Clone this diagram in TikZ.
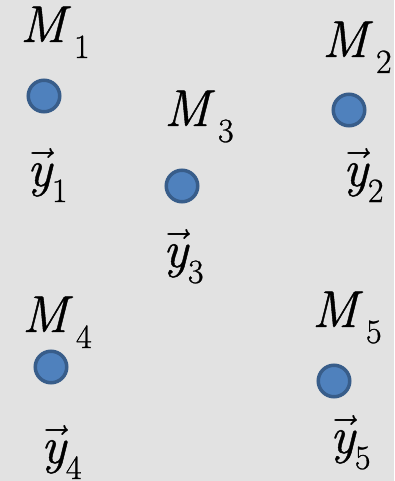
\RequirePackage{fix-cm}
\documentclass[tikz,border=0pt]{standalone}
\usepackage{fontspec}
\setmainfont{Latin Modern Roman}[FakeBold=0.8]
\usepackage{tikz}
\usetikzlibrary{positioning}
\definecolor{BgGray}{RGB}{226,226,226}
\definecolor{PtBlue}{RGB}{79,129,189}
\definecolor{PtEdge}{RGB}{56,93,138}
\newcommand{\mlbl}[1]{\textit{M}\hspace{3pt}\raisebox{-16pt}{\fontsize{34}{34}\selectfont #1}}
\newcommand{\ylbl}[1]{$\vec{\textit{y}}$\hspace{0pt}\raisebox{-16pt}{\fontsize{34}{34}\selectfont #1}}

\begin{document}
\begin{tikzpicture}[x=1pt, y=-1pt,
          pt/.style={circle, draw=PtEdge, fill=PtBlue, line width=3.5pt,
                     minimum size=31.5pt, inner sep=0pt},
          lbl/.style={anchor=base west, inner sep=0pt,
                      font=\fontsize{52}{52}\selectfont}
        ]
        % Background
        \fill[BgGray] (0,0) rectangle (394,481);
        \useasboundingbox (0,0) rectangle (394,481);

        % Points
        \node[pt] (p1) at (44, 96) {};
        \node[pt] (p2) at (349, 110) {};
        \node[pt] (p3) at (182, 186) {};
        \node[pt] (p4) at (51, 367) {};
        \node[pt] (p5) at (334, 381) {};

        % Point names
        \node[lbl] (m1) at (20, 42) {\mlbl{1}};
        \node[lbl] (m2) at (322, 57) {\mlbl{2}};
        \node[lbl] (m3) at (164, 126) {\mlbl{3}};
        \node[lbl] (m4) at (22, 332) {\mlbl{4}};
        \node[lbl] (m5) at (312, 327) {\mlbl{5}};

        % Vectors
        \node[lbl] (y1) at (27, 186) {\ylbl{1}};
        \node[lbl] (y2) at (343, 186) {\ylbl{2}};
        \node[lbl] (y3) at (163, 267) {\ylbl{3}};
        \node[lbl] (y4) at (41, 463) {\ylbl{4}};
        \node[lbl] (y5) at (330, 453) {\ylbl{5}};
      \end{tikzpicture}
\end{document}
